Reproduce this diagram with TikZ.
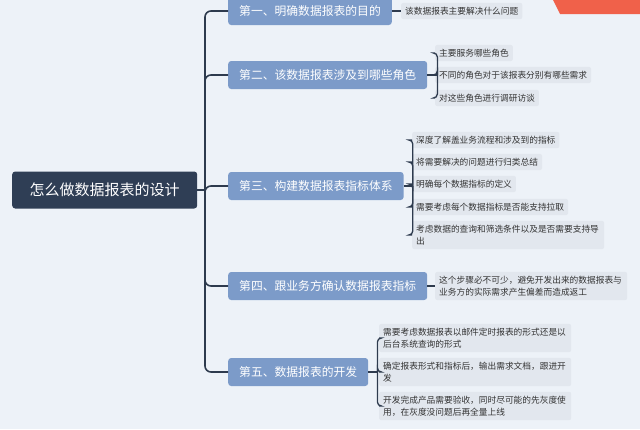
\documentclass[tikz,border=0pt]{standalone}
\usepackage{fontspec}
\setmainfont{Noto Sans CJK SC}
\usetikzlibrary{calc}
\definecolor{bgc}{HTML}{EDF2F8}
\definecolor{rootc}{HTML}{2F3E55}
\definecolor{branchc}{HTML}{7C9BC9}
\definecolor{leafc}{HTML}{E2E7EE}
\definecolor{linec}{HTML}{2E3B4E}
\definecolor{leaftext}{HTML}{333333}
\definecolor{badgec}{HTML}{F0614A}
\begin{document}
\begin{tikzpicture}[x=1pt,y=-1pt,
  rootbox/.style={fill=rootc, text=white, rounded corners=3pt, minimum width=185pt, minimum height=37pt, inner sep=0pt, font=\fontsize{15}{18}\selectfont, anchor=west},
  branchbox/.style={fill=branchc, text=white, rounded corners=3pt, minimum height=28pt, inner xsep=11pt, inner ysep=0pt, font=\fontsize{11.8}{14}\selectfont, anchor=west},
  leafbox/.style={fill=leafc, text=leaftext, rounded corners=2pt, inner xsep=4pt, inner ysep=4pt, font=\fontsize{8.7}{12}\selectfont, anchor=west},
  multileaf/.style={leafbox, text width=184pt, align=left},
  conn/.style={draw=linec, line width=1.6pt, rounded corners=6pt},
  subconn/.style={draw=linec, line width=1.3pt, rounded corners=4pt}]
\fill[bgc] (0,0) rectangle (640,429);
\useasboundingbox (0,0) rectangle (640,429);
\fill[badgec] (553,0) -- (640,0) -- (640,14) -- (560,14) -- cycle;

\node[rootbox] (root) at (12,190) {怎么做数据报表的设计};
\coordinate (sp) at (205,190);

\node[branchbox] (b1) at (228,11) {第一、明确数据报表的目的};
\node[branchbox] (b2) at (228,75) {第二、该数据报表涉及到哪些角色};
\node[branchbox] (b3) at (228,186) {第三、构建数据报表指标体系};
\node[branchbox] (b4) at (228,286) {第四、跟业务方确认数据报表指标};
\node[branchbox] (b5) at (228,372) {第五、数据报表的开发};

\node[leafbox] (l11) at (401,11) {该数据报表主要解决什么问题};

\node[leafbox] (l21) at (435,53) {主要服务哪些角色};
\node[leafbox] (l22) at (435,75) {不同的角色对于该报表分别有哪些需求};
\node[leafbox] (l23) at (435,98) {对这些角色进行调研访谈};

\node[leafbox] (l31) at (412,140) {深度了解盖业务流程和涉及到的指标};
\node[leafbox] (l32) at (412,162) {将需要解决的问题进行归类总结};
\node[leafbox] (l33) at (412,184) {明确每个数据指标的定义};
\node[leafbox] (l34) at (412,207) {需要考虑每个数据指标是否能支持拉取};
\node[multileaf] (l35) at (412,235) {考虑数据的查询和筛选条件以及是否需要支持导\\出};

\node[multileaf] (l41) at (435,286) {这个步骤必不可少，避免开发出来的数据报表与\\业务方的实际需求产生偏差而造成返工};

\node[multileaf] (l51) at (379,338) {需要考虑数据报表以邮件定时报表的形式还是以\\后台系统查询的形式};
\node[multileaf] (l52) at (379,372) {确定报表形式和指标后，输出需求文档，跟进开\\发};
\node[multileaf] (l53) at (379,406) {开发完成产品需要验收，同时尽可能的先灰度使\\用，在灰度没问题后再全量上线};

% main spine
\draw[conn] (root.east) -- (sp);
\foreach \b in {b1,b2,b3,b4,b5}
  \draw[conn] (sp) |- (\b.west);

% sub braces
\coordinate (j2) at ($(b2.east)+(10,0)$);
\coordinate (j3) at ($(b3.east)+(9,0)$);
\coordinate (j5) at ($(b5.east)+(9,0)$);
\draw[subconn] (b1.east) -- (l11.west);
\draw[subconn] (b2.east) -- (j2);
\foreach \l in {l21,l22,l23}
  \draw[subconn] (j2) |- (\l.west);
\draw[subconn] (b3.east) -- (j3);
\foreach \l in {l31,l32,l33,l34,l35}
  \draw[subconn] (j3) |- (\l.west);
\draw[subconn] (b4.east) -- (l41.west);
\draw[subconn] (b5.east) -- (j5);
\foreach \l in {l51,l52,l53}
  \draw[subconn] (j5) |- (\l.west);
\end{tikzpicture}
\end{document}
